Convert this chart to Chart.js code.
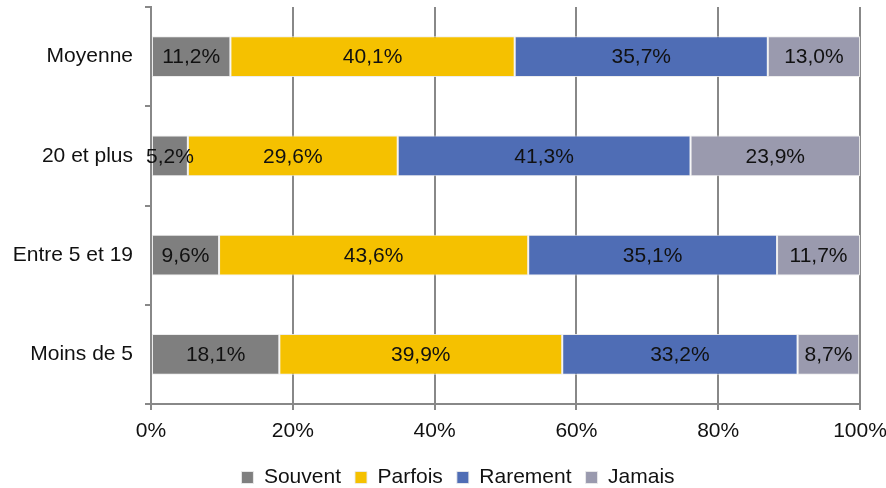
<!DOCTYPE html>
<html>
<head>
<meta charset="utf-8">
<script src="https://cdn.jsdelivr.net/npm/chart.js@4"></script>
<style>
    html, body { margin: 0; padding: 0; background: #fff; }
    #wrap { width: 886px; height: 488px; }
</style>
</head>
<body>
<div id="wrap"><canvas id="freq"></canvas></div>
<script>
const categories = ['Moyenne', '20 et plus', 'Entre 5 et 19', 'Moins de 5'];
const seriesNames = ['Souvent', 'Parfois', 'Rarement', 'Jamais'];
const souvent = [11.2, 5.2, 9.6, 18.1];
const parfois = [40.1, 29.6, 43.6, 39.9];
const rarement = [35.7, 41.3, 35.1, 33.2];
const jamais = [13.0, 23.9, 11.7, 8.7];
const xTicks = [0, 20, 40, 60, 80, 100];

const colors = ['#7f7f7f', '#f5c100', '#4f6db5', '#9a9aae'];
const font = "'Liberation Sans', Arial, sans-serif";
const fsize = 21;

// write the value in the middle of each segment
const barLabels = {
    id: 'barLabels',
    afterDatasetsDraw(chart) {
        const ctx = chart.ctx;
        ctx.save();
        ctx.font = fsize + 'px ' + font;
        ctx.fillStyle = '#111';
        ctx.textAlign = 'center';
        ctx.textBaseline = 'middle';
        chart.data.datasets.forEach(function(ds, i) {
            chart.getDatasetMeta(i).data.forEach(function(bar, j) {
                const txt = ds.data[j].toFixed(1).replace('.', ',') + '%';
                ctx.fillText(txt, (bar.x + bar.base) / 2, bar.y + 1);
            });
        });
        ctx.restore();
    }
};

// legend sits a bit right of the plot centre in the original
const legendShift = {
    id: 'legendShift',
    afterLayout(chart) {
        chart.legend.left += 28;
        chart.legend.right += 28;
    }
};

window.onload = function() {
    const ctx = document.getElementById('freq').getContext('2d');
    const values = [souvent, parfois, rarement, jamais];

    new Chart(ctx, {
        type: 'bar',
        data: {
            labels: categories,
            datasets: seriesNames.map(function(name, i) {
                return {
                    label: name,
                    data: values[i],
                    backgroundColor: colors[i],
                    borderColor: 'rgba(235,235,235,0.9)',
                    borderWidth: 1,
                    borderSkipped: false,
                    barPercentage: 0.41,
                    categoryPercentage: 1
                };
            })
        },
        plugins: [barLabels, legendShift],
        options: {
            indexAxis: 'y',
            responsive: true,
            maintainAspectRatio: false,
            animation: false,
            layout: { padding: { top: 7, right: 26, left: 0, bottom: -10 } },
            plugins: {
                tooltip: { enabled: false },
                legend: {
                    position: 'bottom',
                    labels: {
                        boxWidth: 12,
                        boxHeight: 12,
                        padding: 14,
                        color: '#111',
                        font: { family: font, size: fsize }
                    }
                }
            },
            scales: {
                x: {
                    stacked: true,
                    min: 0,
                    max: 100,
                    afterBuildTicks: function(scale) {
                        scale.ticks = xTicks.map(function(v) { return { value: v }; });
                    },
                    afterFit: function(scale) {
                        scale.height = 49;
                        scale.paddingLeft = 0;
                        scale.paddingRight = 0;
                    },
                    grid: { color: '#888', lineWidth: 2, tickLength: 6 },
                    border: { color: '#888', width: 2 },
                    ticks: {
                        padding: 9,
                        color: '#111',
                        font: { family: font, size: fsize },
                        callback: function(value) { return value + '%'; }
                    }
                },
                y: {
                    stacked: true,
                    afterFit: function(scale) {
                        scale.width = 151;
                        scale.paddingTop = 0;
                        scale.paddingBottom = 0;
                    },
                    grid: { drawOnChartArea: false, color: '#888', lineWidth: 2, tickLength: 6 },
                    border: { color: '#888', width: 2 },
                    ticks: {
                        padding: 12,
                        color: '#111',
                        font: { family: font, size: fsize }
                    }
                }
            }
        }
    });
};
</script>
</body>
</html>
